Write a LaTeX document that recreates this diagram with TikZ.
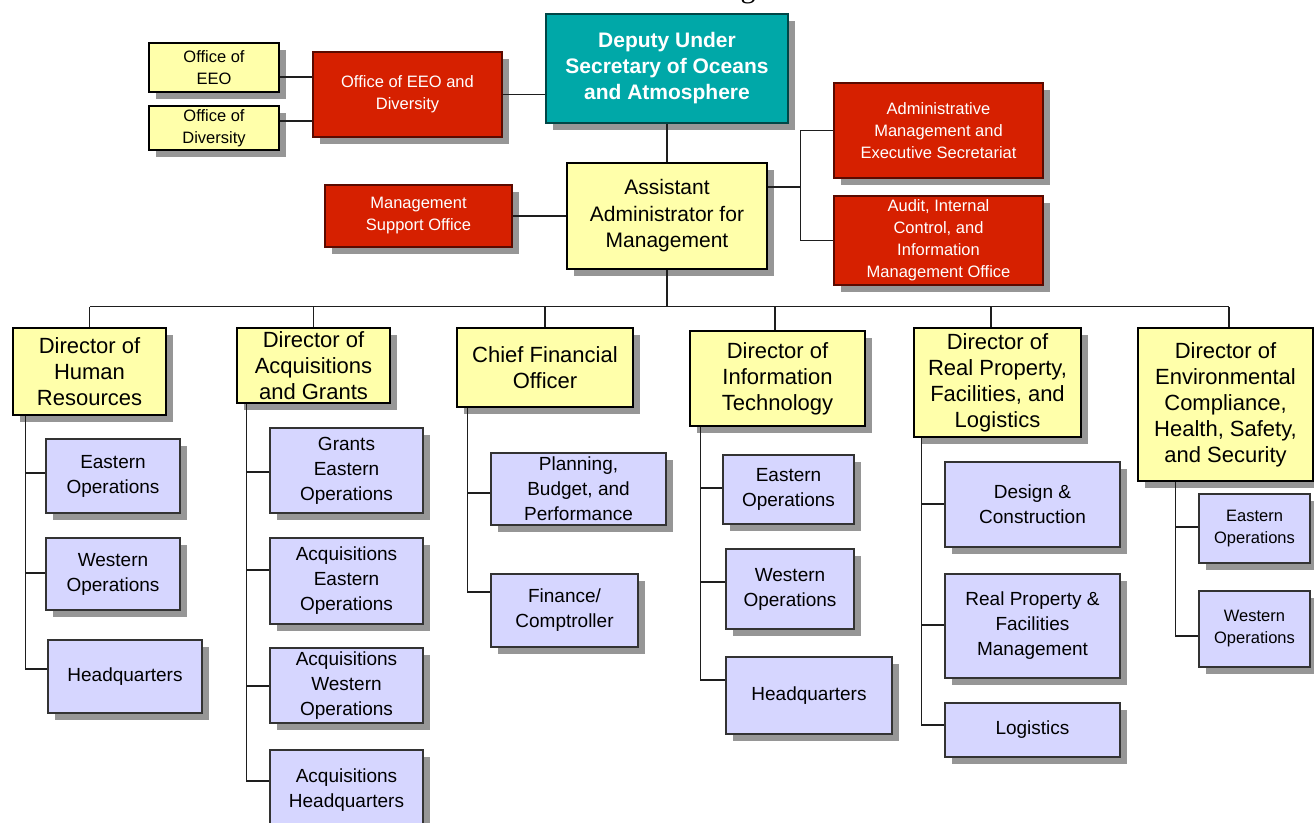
\documentclass[tikz,border=0pt]{standalone}
\usepackage{fontspec}
\setmainfont{Liberation Sans}
\newfontfamily\titleserif{Liberation Serif}
\usetikzlibrary{shadows,calc}

\definecolor{yelfill}{RGB}{255,255,170}
\definecolor{bluefill}{RGB}{214,214,255}
\definecolor{redfill}{RGB}{214,32,0}
\definecolor{redline}{RGB}{90,10,0}
\definecolor{tealfill}{RGB}{0,168,168}
\definecolor{tealline}{RGB}{0,70,70}
\definecolor{shadowgray}{RGB}{150,150,150}
\definecolor{linegray}{RGB}{30,30,30}

\tikzset{
  box/.style={rectangle, inner sep=0pt, align=center, line width=1.2pt,
    drop shadow={shadow xshift=7pt, shadow yshift=-7pt, fill=shadowgray, opacity=1}},
  yelbox/.style={box, fill=yelfill, draw=black},
  bluebox/.style={box, fill=bluefill, draw=black!80},
  dirbox/.style={yelbox, font=\fontsize{22}{26}\selectfont},
  aabox/.style={yelbox, font=\fontsize{21}{26.5}\selectfont},
  smallyel/.style={yelbox, font=\fontsize{16.5}{22}\selectfont},
  childbox/.style={bluebox, font=\fontsize{19}{25}\selectfont},
  smallchild/.style={bluebox, font=\fontsize{16.5}{22}\selectfont},
  redbox/.style={box, fill=redfill, draw=redline, text=white, font=\fontsize{16.5}{22}\selectfont},
  tealbox/.style={box, fill=tealfill, draw=tealline, text=white, font=\bfseries\fontsize{21}{26}\selectfont},
  link/.style={draw=linegray, line width=1.3pt}
}

% box from its corners: name, style, x1, y1, x2, y2, text
\newcommand\bx[7]{%
  \pgfmathsetmacro\bxw{#5-#3}%
  \pgfmathsetmacro\bxh{#6-#4}%
  \node[#2, minimum width=\bxw pt, minimum height=\bxh pt] (#1) at ({(#3+#5)/2},{(#4+#6)/2}) {#7};}

% horizontal branch from a trunk to a child box: child, vertical shift, trunk
\newcommand\branch[3]{%
  \draw[link] ([yshift=#2pt]#1.west) -- ([yshift=#2pt]#1.west -| #3);}

\begin{document}
\begin{tikzpicture}[x=1pt, y=-1pt]
\useasboundingbox (0,0) rectangle (1314,822);

% heading above the chart
\node[font=\titleserif\fontsize{30}{30}\selectfont, anchor=base, inner sep=0pt] (ttl) at (748,-3) {g};

% top level
\bx{deputy}{tealbox}{546}{14}{788}{123}{Deputy Under\\Secretary of Oceans\\and Atmosphere}
\bx{eeo}{smallyel}{149}{43}{279}{92}{Office of\\EEO}
\bx{div}{smallyel}{149}{106}{279}{150}{Office of\\Diversity}
\bx{eeodiv}{redbox}{313}{52}{502}{137}{Office of EEO and\\Diversity}
\bx{aa}{aabox}{567}{163}{767}{269}{Assistant\\Administrator for\\Management}
\bx{msupp}{redbox}{325}{185}{512}{247}{Management\\Support Office}
\bx{adm}{redbox}{834}{83}{1043}{178}{Administrative\\Management and\\Executive Secretariat}
\bx{audit}{redbox}{834}{196}{1043}{285}{Audit, Internal\\Control, and\\Information\\Management Office}

% directors
\bx{hr}{dirbox}{13}{328}{166}{415}{Director of\\Human\\Resources}
\bx{acq}{dirbox}{237}{328}{390}{403}{Director of\\Acquisitions\\and Grants}
\bx{cfo}{dirbox}{457}{328}{633}{407}{Chief Financial\\Officer}
\bx{it}{dirbox}{690}{331}{865}{426}{Director of\\Information\\Technology}
\bx{rp}{dirbox}{914}{328}{1081}{437}{Director of\\Real Property,\\Facilities, and\\Logistics}
\bx{env}{dirbox}{1138}{328}{1313}{481}{Director of\\Environmental\\Compliance,\\Health, Safety,\\and Security}

% human resources
\bx{hre}{childbox}{46}{439}{180}{513}{Eastern\\Operations}
\bx{hrw}{childbox}{46}{538}{180}{610}{Western\\Operations}
\bx{hrq}{childbox}{48}{640}{202}{713}{Headquarters}

% acquisitions and grants
\bx{acqge}{childbox}{270}{428}{423}{513}{Grants\\Eastern\\Operations}
\bx{acqe}{childbox}{270}{538}{423}{624}{Acquisitions\\Eastern\\Operations}
\bx{acqw}{childbox}{270}{648}{423}{723}{Acquisitions\\Western\\Operations}
\bx{acqq}{childbox}{270}{750}{423}{830}{Acquisitions\\Headquarters}

% chief financial officer
\bx{cfop}{childbox}{491}{453}{666}{525}{Planning,\\Budget, and\\Performance}
\bx{cfof}{childbox}{491}{574}{638}{647}{Finance/\\Comptroller}

% information technology
\bx{ite}{childbox}{723}{455}{854}{524}{Eastern\\Operations}
\bx{itw}{childbox}{726}{549}{854}{629}{Western\\Operations}
\bx{itq}{childbox}{726}{657}{892}{734}{Headquarters}

% real property
\bx{rpd}{childbox}{945}{462}{1120}{547}{Design \&\\Construction}
\bx{rpm}{childbox}{945}{574}{1120}{678}{Real Property \&\\Facilities\\Management}
\bx{rpl}{childbox}{945}{703}{1120}{757}{Logistics}

% environmental compliance
\bx{enve}{smallchild}{1199}{494}{1310}{563}{Eastern\\Operations}
\bx{envw}{smallchild}{1199}{591}{1310}{667}{Western\\Operations}

% upper connectors
\draw[link] ([yshift=-9.5pt]eeo.east) -- ([yshift=-9.5pt]eeo.east -| eeodiv.west);
\draw[link] ([yshift=7pt]div.east) -- ([yshift=7pt]div.east -| eeodiv.west);
\draw[link] (eeodiv.east) -- (eeodiv.east -| deputy.west);
\draw[link] (deputy.south) -- (aa.north);
\draw[link] (msupp.east) -- (msupp.east -| aa.west);
\coordinate (rj) at ($(aa.east)!0.5!(adm.west)$);
\draw[link] ([yshift=29pt]aa.east) -- ([yshift=29pt]aa.east -| rj);
\draw[link] (adm.west) -- (adm.west -| rj) -- (audit.west -| rj) -- (audit.west);

% bus to the directors
\coordinate (bus) at ($(aa.south)+(0,37)$);
\draw[link] (aa.south) -- (bus);
\draw[link] (hr.north |- bus) -- ([xshift=3.5pt]env.north |- bus);
\foreach \n in {hr,acq,cfo} \draw[link] (\n.north) -- (\n.north |- bus);
\draw[link] ([xshift=-2.5pt]it.north) -- ([xshift=-2.5pt]it.north |- bus);
\draw[link] ([xshift=-6.5pt]rp.north) -- ([xshift=-6.5pt]rp.north |- bus);
\draw[link] ([xshift=3.5pt]env.north) -- ([xshift=3.5pt]env.north |- bus);

% trunks and branches
\coordinate (hrT) at ([xshift=13pt]hr.south west);
\draw[link] (hrT) |- ([yshift=7.5pt]hrq.west);
\branch{hre}{3}{hrT}\branch{hrw}{1}{hrT}

\coordinate (acqT) at ([xshift=10pt]acq.south west);
\draw[link] (acqT) |- ([yshift=9pt]acqq.west);
\branch{acqge}{-1.5}{acqT}\branch{acqe}{11}{acqT}\branch{acqw}{-0.5}{acqT}

\coordinate (cfoT) at ([xshift=11pt]cfo.south west);
\draw[link] (cfoT) |- ([yshift=18.5pt]cfof.west);
\branch{cfop}{-4}{cfoT}

\coordinate (itT) at ([xshift=11pt]it.south west);
\draw[link] (itT) |- ([yshift=15.5pt]itq.west);
\branch{ite}{1.5}{itT}\branch{itw}{7}{itT}

\coordinate (rpT) at ([xshift=8pt]rp.south west);
\draw[link] (rpT) |- ([yshift=5pt]rpl.west);
\branch{rpd}{0.5}{rpT}\branch{rpm}{1}{rpT}

\coordinate (envT) at ([xshift=38pt]env.south west);
\draw[link] (envT) |- ([yshift=-7pt]envw.west);
\branch{enve}{1.5}{envT}
\end{tikzpicture}
\end{document}
